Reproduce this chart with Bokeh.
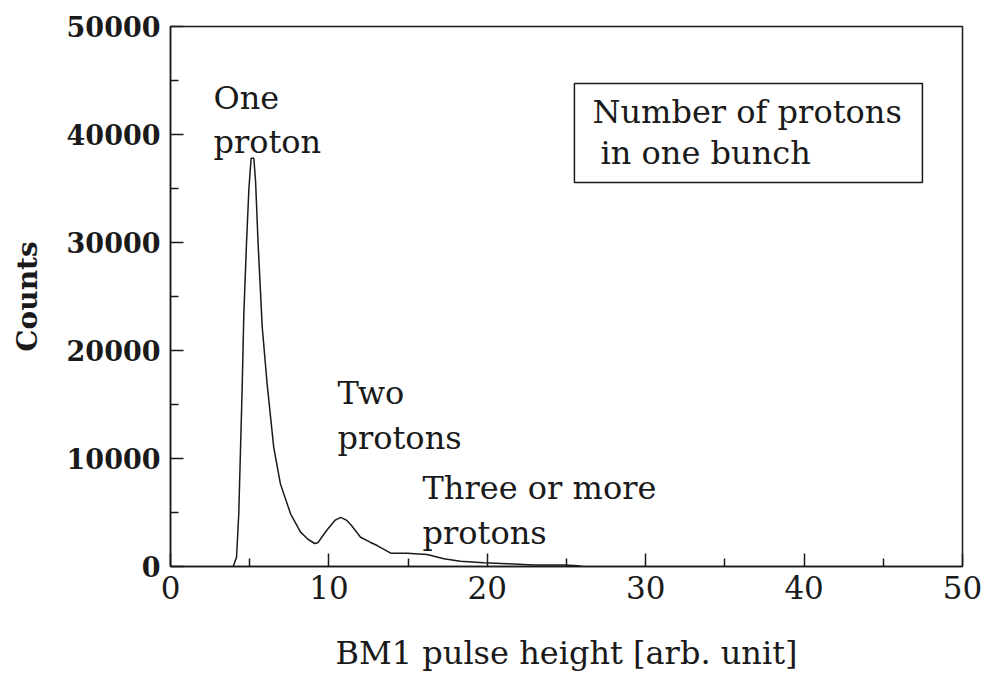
from bokeh.plotting import figure
from bokeh.models import ColumnDataSource, Label, BoxAnnotation, FixedTicker
from bokeh.embed import file_html
from bokeh.resources import INLINE

# Data
pulse_height = [3.96, 4.17, 4.31, 4.52, 4.63, 4.80, 4.95, 5.09, 5.26, 5.37, 5.53, 5.79,
                6.10, 6.52, 6.94, 7.58, 8.21, 8.70, 9.10, 9.30, 9.89, 10.40, 10.75,
                11.10, 11.40, 12.00, 12.60, 13.05, 13.90, 14.94, 16.20, 17.26, 18.30,
                19.78, 21.25, 22.93, 24.83, 25.70, 26.00]
counts = [0, 860, 4880, 16300, 23400, 30000, 35000, 37800, 37800, 35700, 29900, 22200,
          16900, 11000, 7650, 4880, 3180, 2500, 2130, 2200, 3400, 4300, 4550,
          4300, 3850, 2710, 2250, 1940, 1230, 1230, 1110, 710, 490,
          340, 250, 150, 150, 80, 0]

x_ticks = [0, 10, 20, 30, 40, 50]
y_ticks = [0, 10000, 20000, 30000, 40000, 50000]

x_title = "BM1 pulse height [arb. unit]"
y_title = "Counts"

FONT = "DejaVu Serif"
INK = "#1a1a1a"

src = ColumnDataSource(dict(x=pulse_height, y=counts))

p = figure(width=987, height=680, x_range=(0, 50), y_range=(0, 50000),
           output_backend="svg", toolbar_location=None,
           min_border_left=170, min_border_right=25,
           min_border_top=26, min_border_bottom=114)
p.background_fill_color = "white"
p.border_fill_color = "white"
p.grid.visible = False
p.outline_line_color = INK
p.outline_line_width = 1.5
p.outline_line_alpha = 1.0

p.line("x", "y", source=src, line_color=INK, line_width=1.5)

for ax in (p.xaxis[0], p.yaxis[0]):
    ax.axis_line_color = INK
    ax.axis_line_width = 1.5
    ax.major_tick_line_color = INK
    ax.minor_tick_line_color = INK
    ax.major_tick_line_width = 1.5
    ax.minor_tick_line_width = 1.5
    ax.major_tick_in = 13
    ax.major_tick_out = 0
    ax.minor_tick_in = 8
    ax.minor_tick_out = 0
    ax.major_label_text_font = FONT
    ax.major_label_text_color = INK
    ax.axis_label_text_font = FONT
    ax.axis_label_text_color = INK
    ax.axis_label_text_font_style = "normal"

p.xaxis.ticker = FixedTicker(ticks=x_ticks, minor_ticks=[5, 15, 25, 35, 45])
p.yaxis.ticker = FixedTicker(ticks=y_ticks, minor_ticks=[5000, 15000, 25000, 35000, 45000])

p.xaxis.major_label_text_font_size = "31px"
p.xaxis.major_label_standoff = 9
p.xaxis.axis_label = x_title
p.xaxis.axis_label_text_font_size = "32px"
p.xaxis.axis_label_standoff = 32

p.yaxis.major_label_text_font_size = "27px"
p.yaxis.major_label_text_font_style = "bold"
p.yaxis.major_label_standoff = 10
p.yaxis.axis_label = y_title
p.yaxis.axis_label_text_font_size = "28px"
p.yaxis.axis_label_text_font_style = "bold"
p.yaxis.axis_label_standoff = 20

def add_label(x, y, text):
    p.add_layout(Label(x=x, y=y, text=text, text_font=FONT, text_font_size="32px",
                       text_color=INK, text_baseline="alphabetic", text_align="left"))

add_label(2.71, 43350, "One")
add_label(2.71, 39350, "proton")
add_label(10.54, 16050, "Two")
add_label(10.54, 11900, "protons")
add_label(15.91, 7250, "Three or more")
add_label(15.91, 3100, "protons")

p.add_layout(BoxAnnotation(left=25.5, right=47.47, bottom=35560, top=44720,
                           fill_alpha=0, line_color=INK, line_alpha=1.0, line_width=1.5))
add_label(26.64, 42050, "Number of protons")
add_label(27.15, 38300, "in one bunch")

open("out.html", "w").write(file_html(p, INLINE))
